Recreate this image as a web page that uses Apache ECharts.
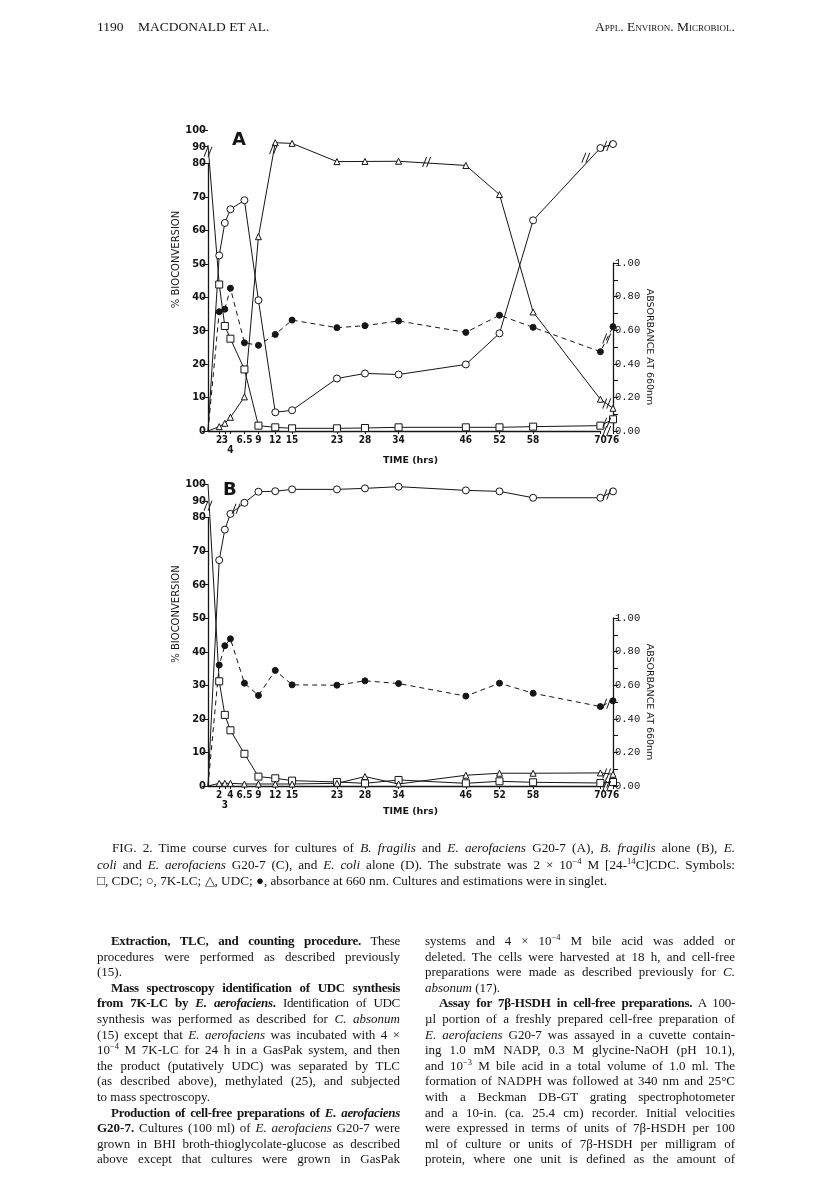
<!DOCTYPE html>
<html><head><meta charset="utf-8">
<script src="https://cdn.jsdelivr.net/npm/echarts@6/dist/echarts.min.js"></script>
<style>
html,body{margin:0;padding:0;background:#fff;}
#page{position:relative;width:816px;height:1203px;overflow:hidden;background:#fff;}
#chart{position:absolute;left:0;top:0;width:816px;height:1203px;}
.txt{position:absolute;font-family:'Liberation Serif','Times New Roman',serif;color:#151515;z-index:2;}
.hdr{top:19px;font-size:13.5px;line-height:16px;white-space:nowrap;}
.sc{font-variant:small-caps;}
.col{font-size:13px;line-height:15.6px;word-spacing:-1.5px;}
.col div{text-align:justify;text-align-last:justify;height:15.6px;}
.col div.last{text-align-last:left;word-spacing:0;}
.col div.ind{text-indent:14px;}
.col div.tight{letter-spacing:-0.3px;}
.cap{font-size:13.2px;line-height:16.7px;word-spacing:-1px;}
.cap div{text-align:justify;text-align-last:justify;height:16.7px;}
.cap div.last{text-align-last:left;word-spacing:0;}
.cap div.ind{text-indent:15px;}
sup{font-size:0.65em;line-height:0;vertical-align:0.55em;}
</style></head>
<body>
<div id="page">
<div id="chart"></div>

<div class="txt hdr" style="left:97px;">1190</div>
<div class="txt hdr" style="left:138px;">MACDONALD ET AL.</div>
<div class="txt hdr sc" style="right:81px;">Appl. Environ. Microbiol.</div>

<div class="txt cap" style="left:97px;top:840px;width:638px;">
<div class="ind">FIG. 2. Time course curves for cultures of <i>B. fragilis</i> and <i>E. aerofaciens</i> G20-7 (A), <i>B. fragilis</i> alone (B), <i>E.</i></div>
<div><i>coli</i> and <i>E. aerofaciens</i> G20-7 (C), and <i>E. coli</i> alone (D). The substrate was 2 × 10<sup>−4</sup> M [24-<sup>14</sup>C]CDC. Symbols:</div>
<div class="last">□, CDC; ○, 7K-LC; △, UDC; ●, absorbance at 660 nm. Cultures and estimations were in singlet.</div>
</div>

<div class="txt col" style="left:97px;top:933px;width:303px;">
<div class="ind tight"><b>Extraction, TLC, and counting procedure.</b> These</div>
<div>procedures were performed as described previously</div>
<div class="last">(15).</div>
<div class="ind tight"><b>Mass spectroscopy identification of UDC synthesis</b></div>
<div class="tight"><b>from 7K-LC by <i>E. aerofaciens</i>.</b> Identification of UDC</div>
<div>synthesis was performed as described for <i>C. absonum</i></div>
<div>(15) except that <i>E. aerofaciens</i> was incubated with 4 ×</div>
<div>10<sup>−4</sup> M 7K-LC for 24 h in a GasPak system, and then</div>
<div>the product (putatively UDC) was separated by TLC</div>
<div>(as described above), methylated (25), and subjected</div>
<div class="last">to mass spectroscopy.</div>
<div class="ind tight"><b>Production of cell-free preparations of <i>E. aerofaciens</i></b></div>
<div><b>G20-7.</b> Cultures (100 ml) of <i>E. aerofaciens</i> G20-7 were</div>
<div>grown in BHI broth-thioglycolate-glucose as described</div>
<div>above except that cultures were grown in GasPak</div>
</div>

<div class="txt col" style="left:425px;top:933px;width:310px;">
<div>systems and 4 × 10<sup>−4</sup> M bile acid was added or</div>
<div>deleted. The cells were harvested at 18 h, and cell-free</div>
<div>preparations were made as described previously for <i>C.</i></div>
<div class="last"><i>absonum</i> (17).</div>
<div class="ind tight"><b>Assay for 7β-HSDH in cell-free preparations.</b> A 100-</div>
<div>µl portion of a freshly prepared cell-free preparation of</div>
<div><i>E. aerofaciens</i> G20-7 was assayed in a cuvette contain-</div>
<div>ing 1.0 mM NADP, 0.3 M glycine-NaOH (pH 10.1),</div>
<div>and 10<sup>−3</sup> M bile acid in a total volume of 1.0 ml. The</div>
<div>formation of NADPH was followed at 340 nm and 25°C</div>
<div>with a Beckman DB-GT grating spectrophotometer</div>
<div>and a 10-in. (ca. 25.4 cm) recorder. Initial velocities</div>
<div>were expressed in terms of units of 7β-HSDH per 100</div>
<div>ml of culture or units of 7β-HSDH per milligram of</div>
<div>protein, where one unit is defined as the amount of</div>
</div>
</div>

<script>
// ---------- data ----------
const timeA = [0, 2, 3, 4, 6.5, 9, 12, 15, 23, 28, 34, 46, 52, 58, 70, 76];
const cdcA  = [91, 43.8, 31.4, 27.6, 18.4, 1.6, 1.1, 0.8, 0.8, 0.9, 1.1, 1.1, 1.1, 1.3, 1.6, 3.5];
const k7lcA = [0, 52.5, 62.2, 66.3, 69.0, 39.1, 5.6, 6.2, 15.7, 17.2, 16.9, 19.9, 29.2, 63.0, 89.2, 91.6];
const udcA  = [0, 1.3, 2.3, 4.1, 10.2, 58.1, 92.4, 92.0, 81.1, 81.2, 81.3, 79.4, 70.7, 35.6, 9.5, 6.8];
const absA  = [0, 0.71, 0.725, 0.85, 0.525, 0.51, 0.575, 0.66, 0.615, 0.627, 0.655, 0.587, 0.689, 0.617, 0.472, 0.621];

const timeB = [0, 2, 3, 4, 6.5, 9, 12, 15, 23, 28, 34, 46, 52, 58, 70, 76];
const cdcB  = [100, 31.2, 21.2, 16.6, 9.6, 2.8, 2.3, 1.6, 1.2, 0.8, 1.8, 0.8, 1.4, 1.1, 0.9, 1.2];
const k7lcB = [0, 67.3, 76.4, 82.2, 88.8, 95.4, 95.7, 96.8, 96.8, 97.4, 98.4, 96.2, 95.6, 91.8, 91.8, 95.6];
const udcB  = [0, 0.8, 0.8, 0.8, 0.6, 0.6, 0.6, 0.6, 0.8, 2.8, 0.6, 3.2, 3.8, 3.8, 3.9, 3.5];
const absB  = [0, 0.72, 0.835, 0.876, 0.612, 0.539, 0.688, 0.602, 0.60, 0.626, 0.61, 0.535, 0.612, 0.552, 0.473, 0.507];

// time tick labels; the crowded ones (3 and 70) are drawn by a second, line-less axis
const timeTicks = [2, 3, 4, 6.5, 9, 12, 15, 23, 28, 34, 46, 52, 58, 70, 76];
const timeTicksCrowded = [3, 70];
const timeTicksMain = timeTicks.filter(v => timeTicksCrowded.indexOf(v) < 0);
const pctTicks  = [0, 10, 20, 30, 40, 50, 60, 70, 80, 90, 100];
const absTicks  = [0, 0.2, 0.4, 0.6, 0.8, 1.0];
const absTickMarks = [0, 0.1, 0.2, 0.3, 0.4, 0.5, 0.6, 0.7, 0.8, 0.9, 1.0];

// break marks ("//") positions [time, value]
const breaksA_main = [[0, 87], [73, 0], [11.7, 88.6], [39, 80.9], [67.4, 83.4], [73, 90.4], [73, 8.2], [73, 2.5]];
const breaksA_abs  = [[73, 0.55]];
const breaksB_main = [[0, 87], [73, 0], [5, 85.3], [73, 93.7], [73, 3.7], [73, 1.05]];
const breaksB_abs  = [[73, 0.49]];

// ---------- chart ----------
const ink = '#151515';
const axFont = "'Liberation Sans Narrow','DejaVu Sans Condensed','DejaVu Sans',sans-serif";
const chart = echarts.init(document.getElementById('chart'), null, {renderer: 'canvas'});

// the starting point (t = 0) is drawn as a plain line end, without a marker
function pts(ts, vs) {
  return ts.map((t, i) => (i === 0 ? {value: [t, vs[i]], symbol: 'none'} : [t, vs[i]]));
}
const brkPath = 'path://M0,10L4,0M4,10L8,0';
function marks(coords) {
  return {
    symbol: brkPath, symbolSize: [8, 10], silent: true, label: {show: false},
    itemStyle: {color: 'rgba(0,0,0,0)', borderColor: ink, borderWidth: 1},
    data: coords.map(c => ({coord: c}))
  };
}
function lineSeries(name, sym, size, data, xi, yi, opts) {
  opts = opts || {};
  return {
    type: 'line', name: name, xAxisIndex: xi, yAxisIndex: yi, data: data,
    symbol: sym, symbolSize: size, showAllSymbol: true, clip: false,
    lineStyle: {color: ink, width: 1, type: opts.dashed ? [5, 4] : 'solid'},
    itemStyle: {color: opts.filled ? ink : '#fff', borderColor: ink, borderWidth: 1},
    markPoint: opts.marks ? marks(opts.marks) : undefined,
    z: opts.z || 3, animation: false
  };
}

function xAxisCfg(gi, isMain, labelVals, lowerLabel) {
  return {
    type: 'value', gridIndex: gi, min: 0, max: 76, show: true,
    breaks: [{start: 70, end: 76, gap: 2.25}],
    breakArea: {show: false},
    breakLabelLayout: {moveOverlap: false},
    axisLine: {show: isMain, onZero: false, lineStyle: {color: ink, width: 1.3}},
    axisTick: {show: true, length: 3, customValues: labelVals, lineStyle: {color: ink}},
    axisLabel: {show: true, customValues: labelVals, hideOverlap: false, interval: 0,
      showMinLabel: true, showMaxLabel: true, margin: 4,
      color: ink, fontFamily: axFont, fontSize: 10, fontWeight: 'bold',
      formatter: v => (v === lowerLabel ? '\n' + v : String(v))},
    splitLine: {show: false},
    name: isMain ? 'TIME (hrs)' : '', nameLocation: 'middle', nameGap: 21,
    nameTextStyle: {color: ink, fontFamily: "'DejaVu Sans',sans-serif", fontSize: 9.5, fontWeight: 'bold'}
  };
}
function pctAxisCfg(gi) {
  return {
    type: 'value', gridIndex: gi, min: 0, max: 100, position: 'left',
    breaks: [{start: 80, end: 100, gap: 10}],
    breakArea: {show: false},
    axisLine: {show: true, onZero: false, lineStyle: {color: ink, width: 1.3}},
    axisTick: {show: true, length: 6, customValues: pctTicks, lineStyle: {color: ink}},
    axisLabel: {show: true, customValues: pctTicks, margin: 2, color: ink,
      showMinLabel: true, showMaxLabel: true,
      fontFamily: axFont, fontSize: 11, fontWeight: 'bold'},
    splitLine: {show: false},
    name: '% BIOCONVERSION', nameLocation: 'middle', nameRotate: 90, nameGap: 26,
    nameTextStyle: {color: ink, fontFamily: "'DejaVu Sans',sans-serif", fontSize: 10, padding: [0, 0, 0, 42]}
  };
}
function absAxisCfg(gi) {
  return {
    type: 'value', gridIndex: gi, min: 0, max: 1, position: 'right',
    axisLine: {show: true, onZero: false, lineStyle: {color: ink, width: 1.3}},
    axisTick: {show: true, length: 5, customValues: absTickMarks, lineStyle: {color: ink}},
    axisLabel: {show: true, customValues: absTicks, margin: 2, color: ink,
      showMinLabel: true, showMaxLabel: true,
      fontFamily: "'Liberation Mono','DejaVu Sans Mono',monospace", fontSize: 10.5,
      formatter: v => v.toFixed(2)},
    splitLine: {show: false},
    name: 'ABSORBANCE AT 660nm', nameLocation: 'middle', nameRotate: -90, nameGap: 25,
    nameTextStyle: {color: ink, fontFamily: "'DejaVu Sans',sans-serif", fontSize: 9.5}
  };
}

const option = {
  backgroundColor: '#fff',
  animation: false,
  grid: [
    {left: 208, top: 130, width: 405, height: 301, outerBoundsMode: 'none'},
    {left: 208, top: 263, width: 405, height: 168, outerBoundsMode: 'none'},
    {left: 208, top: 484, width: 405, height: 302, outerBoundsMode: 'none'},
    {left: 208, top: 618, width: 405, height: 168, outerBoundsMode: 'none'}
  ],
  xAxis: [
    xAxisCfg(0, true, timeTicksMain, 4),
    xAxisCfg(1, false, timeTicksCrowded, null),
    xAxisCfg(2, true, timeTicksMain, null),
    xAxisCfg(3, false, timeTicksCrowded, 3)
  ],
  yAxis: [pctAxisCfg(0), absAxisCfg(1), pctAxisCfg(2), absAxisCfg(3)],
  graphic: [
    {type: 'text', left: 232, top: 131, style: {text: 'A', font: "bold 18px 'DejaVu Sans'", fill: ink}},
    {type: 'text', left: 223, top: 481, style: {text: 'B', font: "bold 18px 'DejaVu Sans'", fill: ink}}
  ],
  series: [
    lineSeries('abs A', 'circle', 6, pts(timeA, absA), 1, 1, {dashed: true, filled: true, marks: breaksA_abs, z: 2}),
    lineSeries('CDC A', 'rect', 7, pts(timeA, cdcA), 0, 0, {marks: breaksA_main}),
    lineSeries('7K-LC A', 'circle', 7, pts(timeA, k7lcA), 0, 0),
    lineSeries('UDC A', 'triangle', 6, pts(timeA, udcA), 0, 0),
    lineSeries('abs B', 'circle', 6, pts(timeB, absB), 3, 3, {dashed: true, filled: true, marks: breaksB_abs, z: 2}),
    lineSeries('CDC B', 'rect', 7, pts(timeB, cdcB), 2, 2, {marks: breaksB_main}),
    lineSeries('7K-LC B', 'circle', 7, pts(timeB, k7lcB), 2, 2),
    lineSeries('UDC B', 'triangle', 6, pts(timeB, udcB), 2, 2)
  ]
};
chart.setOption(option);
</script>
</body></html>
